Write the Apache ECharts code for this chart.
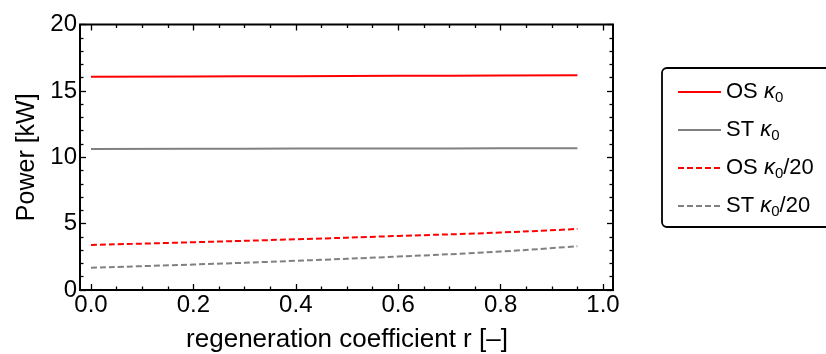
<!DOCTYPE html>
<html>
<head>
<meta charset="utf-8">
<script src="https://cdn.jsdelivr.net/npm/echarts@6/dist/echarts.min.js"></script>
<style>
  html, body { margin: 0; padding: 0; background: #fff; }
  #chart { width: 826px; height: 354px; }
</style>
</head>
<body>
<div id="chart"></div>
<script>
// regeneration coefficient r
var rValues = [0, 0.2, 0.4, 0.6, 0.8, 0.95];
// power [kW]
var osK0 = [16.07, 16.09, 16.11, 16.13, 16.15, 16.17];
var stK0 = [10.63, 10.64, 10.65, 10.66, 10.67, 10.68];
var osK020 = [3.39, 3.6, 3.82, 4.07, 4.33, 4.6];
var stK020 = [1.68, 1.92, 2.2, 2.52, 2.9, 3.3];
var seriesNames = ['OS κ0', 'ST κ0', 'OS κ0/20', 'ST κ0/20'];
var xTicks = [0, 0.2, 0.4, 0.6, 0.8, 1.0];
var yTicks = [0, 5, 10, 15, 20];

var font = 'Liberation Sans, Arial, Helvetica, sans-serif';
var chart = echarts.init(document.getElementById('chart'));

function pairs(ys) {
    return rValues.map(function (r, i) { return [r, ys[i]]; });
}

var tickStyle = { color: '#000', width: 1.3 };

function mkSeries(name, ys, color, dashed) {
    return {
        name: name,
        type: 'line',
        xAxisIndex: 1,
        yAxisIndex: 2,
        data: pairs(ys),
        symbol: 'none',
        smooth: true,
        silent: true,
        lineStyle: { color: color, width: 2, type: dashed ? [6, 3] : 'solid' },
        itemStyle: { color: color }
    };
}

var labelRich = {
    n: { fontFamily: font, fontSize: 22, color: '#000' },
    k: { fontFamily: font, fontStyle: 'italic', fontSize: 22, color: '#000' },
    s: { fontFamily: font, fontSize: 15, color: '#000', padding: [11, 0, 0, 0] }
};

var option = {
    backgroundColor: '#fff',
    animation: false,
    grid: [
        // frame grid
        { left: 80, right: 213, top: 24.5, bottom: 64, outerBoundsMode: 'none', containLabel: false,
          show: true, borderColor: '#000', borderWidth: 2, backgroundColor: 'transparent' },
        // data grid: x from 0 to 1 sits a little inside the frame
        { left: 91, right: 223, top: 24.5, bottom: 64, outerBoundsMode: 'none', containLabel: false }
    ],
    graphic: [
        {
            type: 'rect',
            shape: { x: 662, y: 68, width: 180, height: 159, r: 5 },
            style: { fill: 'none', stroke: '#000', lineWidth: 1.8 },
            z: 100
        }
    ],
    legend: {
        orient: 'vertical',
        left: 672,
        top: 76,
        itemWidth: 43,
        itemHeight: 14,
        itemGap: 14,
        data: seriesNames,
        itemStyle: { opacity: 0 },
        formatter: function (name) {
            var tail = name.indexOf('/20') >= 0 ? '/20' : '';
            return '{n|' + name.slice(0, 3) + '}{k|κ}{s|0}{n|' + tail + '}';
        },
        textStyle: { fontFamily: font, fontSize: 22, color: '#000', rich: labelRich }
    },
    xAxis: [
        {
            gridIndex: 0, type: 'value', min: 0, max: 1, show: false
        },
        {
            gridIndex: 1, type: 'value', min: 0, max: 1, interval: 0.2,
            position: 'bottom',
            name: 'regeneration coefficient r [–]',
            nameLocation: 'middle',
            nameGap: 37,
            nameTextStyle: { fontFamily: font, fontSize: 26, color: '#000' },
            axisLine: { show: false },
            axisTick: { show: true, inside: true, length: 6, lineStyle: tickStyle },
            minorTick: { show: true, splitNumber: 4, length: 3.5, lineStyle: tickStyle },
            splitLine: { show: false },
            axisLabel: {
                fontFamily: font, fontSize: 24, color: '#000', margin: 3,
                formatter: function (v) { return xTicks.indexOf(+v.toFixed(1)) >= 0 ? v.toFixed(1) : ''; }
            }
        },
        {
            gridIndex: 1, type: 'value', min: 0, max: 1, interval: 0.2,
            position: 'top',
            axisLine: { show: false },
            axisTick: { show: true, inside: true, length: 6, lineStyle: tickStyle },
            minorTick: { show: true, splitNumber: 4, length: 3.5, lineStyle: tickStyle },
            splitLine: { show: false },
            axisLabel: { show: false }
        }
    ],
    yAxis: [
        {
            gridIndex: 0, type: 'value', min: 0, max: 20, interval: 5,
            position: 'left',
            name: 'Power [kW]',
            nameLocation: 'middle',
            nameGap: 37,
            nameTextStyle: { fontFamily: font, fontSize: 25, color: '#000' },
            axisLine: { show: false },
            axisTick: { show: true, inside: true, length: 6, lineStyle: tickStyle },
            minorTick: { show: true, splitNumber: 5, length: 3.5, lineStyle: tickStyle },
            splitLine: { show: false },
            axisLabel: {
                fontFamily: font, fontSize: 24, color: '#000', margin: 3,
                formatter: function (v) { return yTicks.indexOf(v) >= 0 ? String(v) : ''; }
            }
        },
        {
            gridIndex: 0, type: 'value', min: 0, max: 20, interval: 5,
            position: 'right',
            axisLine: { show: false },
            axisTick: { show: true, inside: true, length: 6, lineStyle: tickStyle },
            minorTick: { show: true, splitNumber: 5, length: 3.5, lineStyle: tickStyle },
            splitLine: { show: false },
            axisLabel: { show: false }
        },
        {
            gridIndex: 1, type: 'value', min: 0, max: 20, show: false
        }
    ],
    series: [
        mkSeries(seriesNames[0], osK0, '#ff0000', false),
        mkSeries(seriesNames[1], stK0, '#808080', false),
        mkSeries(seriesNames[2], osK020, '#ff0000', true),
        mkSeries(seriesNames[3], stK020, '#808080', true)
    ]
};

chart.setOption(option);
</script>
</body>
</html>
